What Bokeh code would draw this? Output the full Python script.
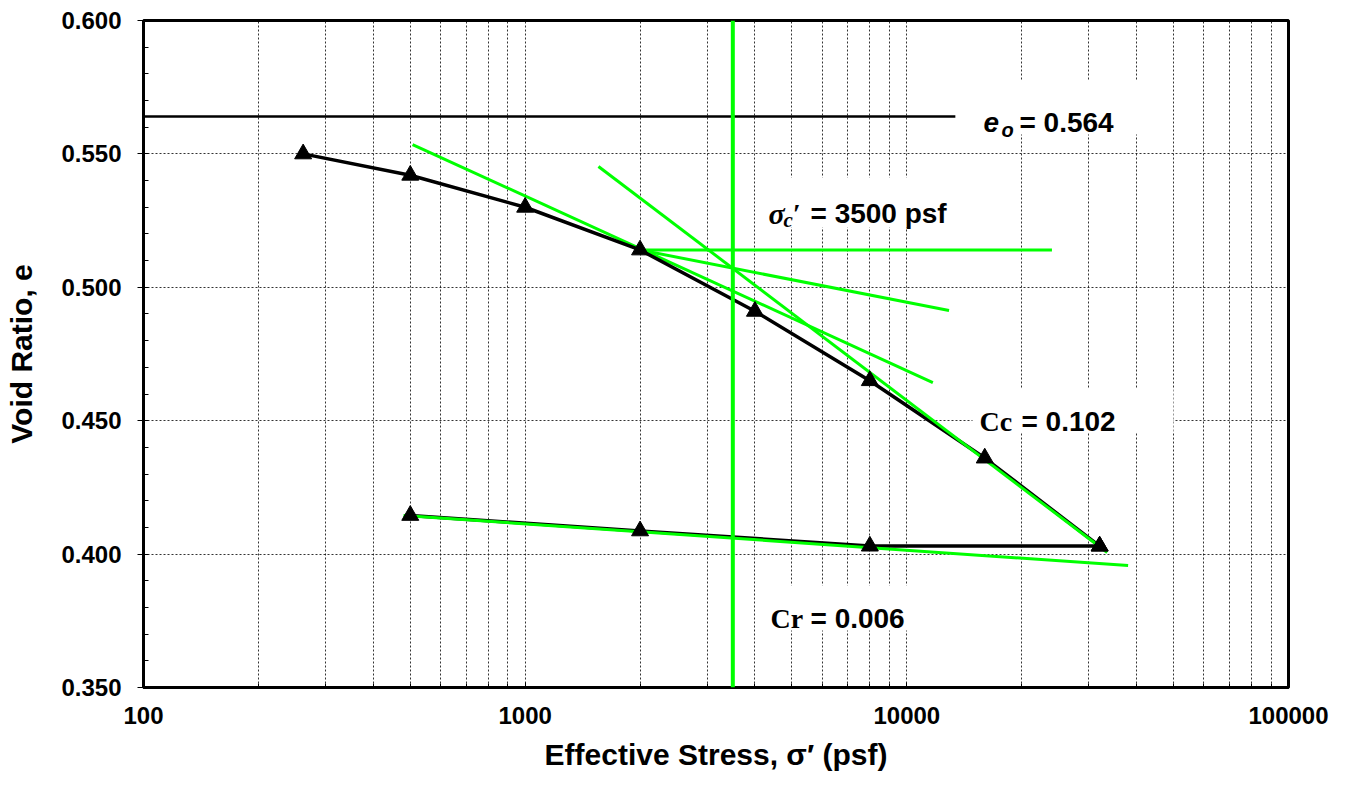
from bokeh.plotting import figure
from bokeh.models import (Range1d, FixedTicker, PrintfTickFormatter, Span, Label,
                          BoxAnnotation)
from bokeh.embed import file_html
from bokeh.resources import INLINE

# ---------------- data ----------------
load_stress = [262, 500, 1000, 2000, 4000, 8000, 16000, 32000]
load_e = [0.550, 0.542, 0.530, 0.514, 0.491, 0.465, 0.436, 0.403]

unload_stress = [32000, 8000, 2000, 500]
unload_e = [0.403, 0.403, 0.4087, 0.4145]

e0 = 0.564
e0_stress = [100, 13400]
sigma_c = 3500

horiz_stress = [2000, 24000]
horiz_e = [0.514, 0.514]
bisect_stress = [2000, 12900]
bisect_e = [0.514, 0.4913]
tangent_stress = [507, 11700]
tangent_e = [0.5535, 0.4643]
cc_stress = [1556, 33500]
cc_e = [0.5453, 0.4006]
cr_stress = [480, 38000]
cr_e = [0.4145, 0.3957]

x_ticks = [100, 1000, 10000, 100000]
x_minor = [k * 10 ** d for d in (2, 3, 4) for k in range(2, 10)]
y_ticks = [0.35, 0.40, 0.45, 0.50, 0.55, 0.60]
y_minor = [round(0.35 + 0.01 * i, 2) for i in range(26)]

GREEN = "#00ff00"
SANS = "Liberation Sans"
SERIF = "Liberation Serif"

# --------------- figure ---------------
p = figure(x_axis_type="log", x_range=Range1d(100, 100000), y_range=Range1d(0.35, 0.60),
           frame_width=1145, frame_height=667, min_border_left=143, min_border_top=20,
           min_border_right=45, min_border_bottom=96,
           output_backend="svg", toolbar_location=None, background_fill_color="white",
           border_fill_color="white")
p.outline_line_color = "black"
p.outline_line_width = 3

# axes
xa = p.xaxis[0]
xa.ticker = FixedTicker(ticks=x_ticks, minor_ticks=x_minor)
xa.formatter = PrintfTickFormatter(format="%d")
xa.major_tick_in = 5
xa.major_tick_out = 0
xa.minor_tick_in = 4
xa.minor_tick_out = 0
xa.major_label_standoff = 19
xa.axis_label = "Effective Stress, σ′ (psf)"
xa.axis_label_standoff = 11

ya = p.yaxis[0]
ya.ticker = FixedTicker(ticks=y_ticks, minor_ticks=y_minor)
ya.formatter = PrintfTickFormatter(format="%.3f")
ya.major_tick_in = 0
ya.major_tick_out = 6
ya.minor_tick_in = 5
ya.minor_tick_out = 0
ya.major_label_standoff = 16
ya.axis_label = "Void Ratio, e"
ya.axis_label_standoff = 20

for ax in (xa, ya):
    ax.axis_line_width = 3
    ax.axis_line_color = "black"
    ax.major_tick_line_color = "black"
    ax.minor_tick_line_color = "black"
    ax.major_label_text_font = SANS
    ax.major_label_text_font_style = "bold"
    ax.major_label_text_font_size = "24px"
    ax.major_label_text_color = "black"
    ax.axis_label_text_font = SANS
    ax.axis_label_text_font_style = "bold"
    ax.axis_label_text_font_size = "30px"
    ax.axis_label_text_color = "black"

# grids
GRID = "#000000"
p.xgrid.grid_line_color = GRID
p.xgrid.grid_line_dash = "2 2"
p.xgrid.grid_line_width = 1
p.xgrid.grid_line_alpha = 0.8
p.xgrid.minor_grid_line_color = GRID
p.xgrid.minor_grid_line_dash = "2 2"
p.xgrid.minor_grid_line_width = 1
p.xgrid.minor_grid_line_alpha = 0.8
p.ygrid.grid_line_color = GRID
p.ygrid.grid_line_dash = "2 2"
p.ygrid.grid_line_width = 1
p.ygrid.grid_line_alpha = 0.8


def X(px):
    return 10 ** (2 + (px - 143) / 381.67)


def Y(py):
    return 0.600 - (py - 20) / 2668.0


# white label boxes (cover the grid, under the data)
for l, r, t, b in [(960, 1170, 80, 134), (763, 965, 177, 227),
                   (972, 1173, 388, 432), (763, 958, 585, 630)]:
    p.add_layout(BoxAnnotation(left=X(l), right=X(r), top=Y(t), bottom=Y(b),
                               fill_color="white", fill_alpha=1.0, line_alpha=0,
                               level="underlay"))

# construction lines
p.line(e0_stress, [e0, e0], line_color="black", line_width=2.5)
p.add_layout(Span(location=sigma_c, dimension="height", line_color=GREEN, line_width=4))
p.line(horiz_stress, horiz_e, line_color=GREEN, line_width=3)
p.line(bisect_stress, bisect_e, line_color=GREEN, line_width=3)
p.line(tangent_stress, tangent_e, line_color=GREEN, line_width=3)

# test curve
p.line(load_stress, load_e, line_color="black", line_width=3.5)
p.line(unload_stress, unload_e, line_color="black", line_width=3.5)
p.line(cc_stress, cc_e, line_color=GREEN, line_width=3)
p.line(cr_stress, cr_e, line_color=GREEN, line_width=3)
p.scatter(load_stress, load_e, marker="triangle", size=17, fill_color="black", line_color="black")
p.scatter(unload_stress, unload_e, marker="triangle", size=17, fill_color="black", line_color="black")


def lab(text, px, py, font=SANS, style="bold", size="28px"):
    p.add_layout(Label(x=X(px), y=Y(py), text=text, text_font=font,
                       text_font_style=style, text_font_size=size, text_color="black",
                       text_baseline="alphabetic", text_align="left"))


# e_o = 0.564
lab("e", 983, 122, SANS, "bold italic", "28px")
lab("o", 1001, 129, SANS, "bold italic", "20px")
lab("= 0.564", 1019, 122)
# sigma_c' = 3500 psf
lab("σ", 768, 213, SERIF, "bold italic", "30px")
lab("c", 783, 219, SERIF, "bold italic", "21px")
lab("′", 792, 213, SERIF, "bold italic", "28px")
lab("= 3500 psf", 810, 213)
# Cc
lab("Cc", 979, 421, SERIF, "bold", "28px")
lab("= 0.102", 1021, 421)
# Cr
lab("Cr", 770, 618, SERIF, "bold", "28px")
lab("= 0.006", 810, 618)

open("out.html", "w").write(file_html(p, INLINE))
